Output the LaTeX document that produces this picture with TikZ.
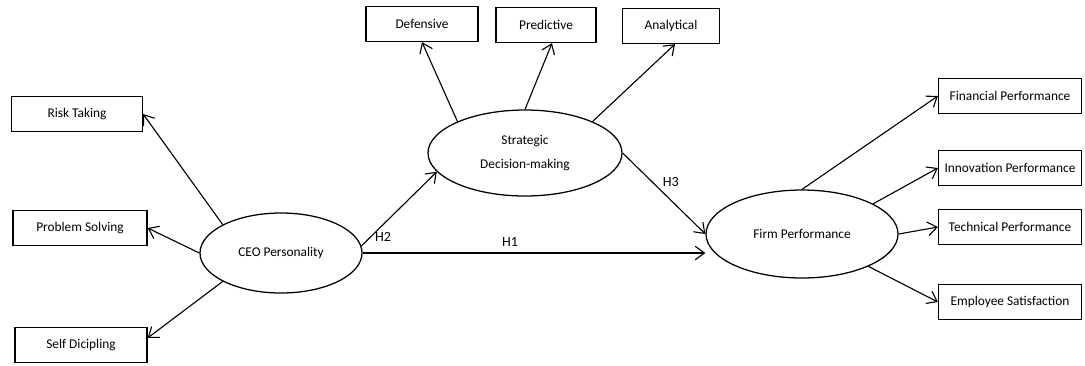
\documentclass[tikz,border=0pt]{standalone}
\usepackage{fontspec}
\setmainfont{Carlito}
\usetikzlibrary{arrows.meta,positioning,shapes.geometric}
\tikzset{
  pmbox/.style={draw, line width=0.9pt, minimum height=8.75mm, inner sep=2pt, font=\fontsize{9.5}{11}\selectfont},
  pmlatent/.style={draw, ellipse, line width=0.9pt, inner sep=0pt, align=center, font=\fontsize{9.5}{11}\selectfont},
  pmarrow/.style={-{Straight Barb[length=2.3mm,width=3.4mm]}, line width=0.8pt},
  pmlabel/.style={font=\fontsize{10}{11}\selectfont, inner sep=1pt}
}

\begin{document}
\begin{tikzpicture}[x=0.25mm, y=-0.25mm]
\useasboundingbox (0,0) rectangle (1085,365);
% latent variables
\node[pmlatent, minimum width=40.5mm, minimum height=20mm] (ceo) at (281,253) {CEO Personality};
\node[pmlatent, minimum width=48.5mm, minimum height=21.5mm] (sdm) at (525,153) {Strategic\\[6pt]Decision-making};
\node[pmlatent, minimum width=48mm, minimum height=22mm] (firm) at (802,234) {Firm Performance};
% indicators
\node[pmbox, minimum width=32.75mm] (risk) at (77,114) {Risk Taking};
\node[pmbox, minimum width=33.5mm] (probsolv) at (80,228) {Problem Solving};
\node[pmbox, minimum width=33mm] (selfdis) at (81,345) {Self Dicipling};
\node[pmbox, minimum width=28mm] (defens) at (422,24) {Defensive};
\node[pmbox, minimum width=25mm] (predict) at (546,25) {Predictive};
\node[pmbox, minimum width=24.25mm] (analyt) at (671,26) {Analytical};
\node[pmbox, minimum width=35.75mm] (financ) at (1010,96) {Financial Performance};
\node[pmbox, minimum width=35.75mm] (innov) at (1010,168) {Innovation Performance};
\node[pmbox, minimum width=35.75mm] (techn) at (1010,227) {Technical Performance};
\node[pmbox, minimum width=35.75mm] (employ) at (1010,302) {Employee Satisfaction};
% measurement arrows
\draw[pmarrow] (ceo.154) -- (risk.east);
\draw[pmarrow] (ceo.west) -- (probsolv.east);
\draw[pmarrow] (ceo.206) -- (selfdis.6);
\draw[pmarrow] (sdm.155) -- (defens.south);
\draw[pmarrow] (sdm.north) -- ([xshift=1.5mm]predict.south);
\draw[pmarrow] (sdm.25) -- ([xshift=1mm]analyt.south);
\draw[pmarrow] (firm.north) -- (financ.west);
\draw[pmarrow] (firm.23) -- (innov.west);
\draw[pmarrow] (firm.east) -- (techn.west);
\draw[pmarrow] (firm.-26) -- (employ.west);
% hypotheses
\draw[pmarrow] (ceo.5) -- node[pmlabel, pos=0.12, right=2pt] {H2} (sdm.192);
\draw[pmarrow] (ceo.east) -- node[pmlabel, pos=0.43, above=3pt] {H1} (ceo.east -| firm.west);
\draw[pmarrow] (sdm.east) -- node[pmlabel, pos=0.45, above right=1pt] {H3} (firm.west);
\end{tikzpicture}
\end{document}
